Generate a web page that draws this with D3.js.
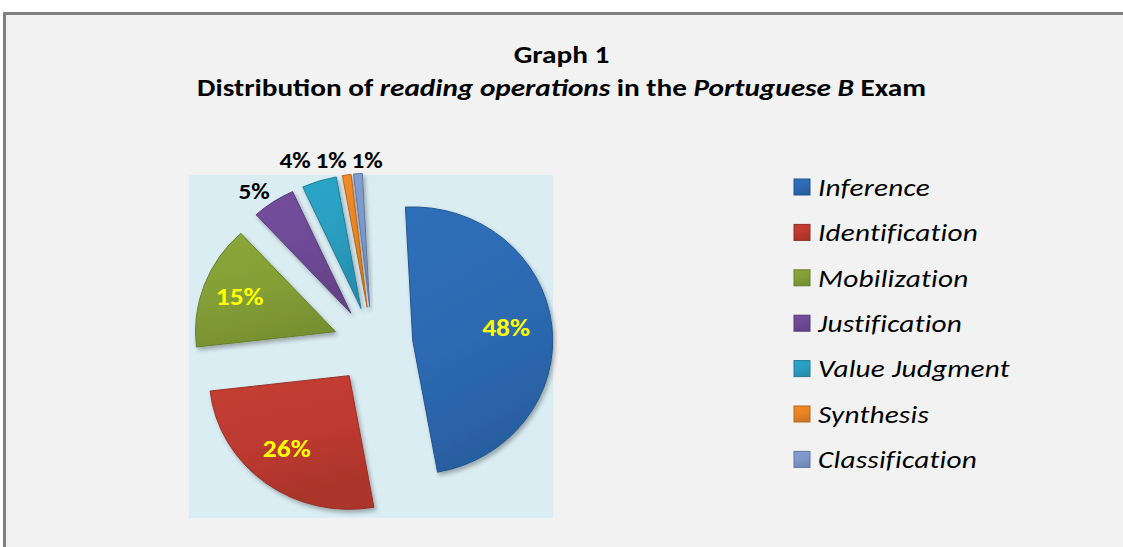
<!DOCTYPE html>
<html>
<head>
<meta charset="utf-8">
<script src="https://cdn.jsdelivr.net/npm/d3@7"></script>
<style>
  body { margin: 0; background: #ffffff; }
  svg { display: block; }
</style>
</head>
<body>
<div id="chart"></div>
<script>
// Data
const categories = ["Inference", "Identification", "Mobilization", "Justification", "Value Judgment", "Synthesis", "Classification"]
const percents = [48, 26, 15, 5, 4, 1, 1]
const colours = ["#2d6ab2", "#bd3a30", "#84a036", "#6f4a96", "#2a9ec0", "#e98424", "#7d98cb"]
const insideLabels = [true, true, true, false, false, false, false]

// Chart parameters
const WIDTH = 1123
const HEIGHT = 547
const FONT = "Carlito, Calibri, Lato, sans-serif"
const STRETCH = 1.17   // the original text is drawn a bit wide
const PLOT = {LEFT:189, TOP:175, WIDTH:364, HEIGHT:343}
const PIE = {CX:373, CY:345, R:140, EXPLODE:40, START:-3, SY:0.955}

let svg = d3.select("#chart").append("svg")
    .attr("width", WIDTH)
    .attr("height", HEIGHT)

let defs = svg.append("defs")

// Soft shadow under the slices
let shadow = defs.append("filter").attr("id", "shadow")
    .attr("x", "-20%").attr("y", "-20%").attr("width", "140%").attr("height", "140%")
shadow.append("feDropShadow")
    .attr("dx", 2).attr("dy", 3).attr("stdDeviation", 2)
    .attr("flood-color", "#000").attr("flood-opacity", 0.3)

// One gradient per colour to fake the bevel
colours.forEach((c, i) => {
    let g = defs.append("linearGradient").attr("id", "grad" + i)
        .attr("x1", 0).attr("y1", 0).attr("x2", 0.3).attr("y2", 1)
    g.append("stop").attr("offset", "0%").attr("stop-color", d3.color(c).brighter(0.12))
    g.append("stop").attr("offset", "55%").attr("stop-color", c)
    g.append("stop").attr("offset", "100%").attr("stop-color", d3.color(c).darker(0.3))
})

// Outer frame
svg.append("rect")
    .attr("x", 4.5).attr("y", 13.5)
    .attr("width", WIDTH + 10).attr("height", HEIGHT + 10)
    .attr("fill", "#f2f2f2")
    .attr("stroke", "#808080")
    .attr("stroke-width", 3)

// Titles
let title = svg.append("g")
    .attr("font-family", FONT)
    .attr("font-weight", "bold")
    .attr("font-size", 25)
    .attr("fill", "#000")
    .attr("text-anchor", "middle")
title.append("text")
    .attr("transform", `translate(${WIDTH / 2},63) scale(${STRETCH},1)`)
    .text("Graph 1")
let t2 = title.append("text")
    .attr("transform", `translate(${WIDTH / 2},96) scale(${STRETCH},1)`)
t2.append("tspan").text("Distribution of ")
t2.append("tspan").attr("font-style", "italic").text("reading operations")
t2.append("tspan").text(" in the ")
t2.append("tspan").attr("font-style", "italic").text("Portuguese B")
t2.append("tspan").text(" Exam")

// Plot area
svg.append("rect")
    .attr("x", PLOT.LEFT).attr("y", PLOT.TOP)
    .attr("width", PLOT.WIDTH).attr("height", PLOT.HEIGHT)
    .attr("fill", "#daedf3")

// Pie layout, clockwise from near 12 o'clock, no sorting
const start = PIE.START * Math.PI / 180
let pie = d3.pie().sort(null).value(d => d.value)
    .startAngle(start).endAngle(start + 2 * Math.PI)
let arcs = pie(percents.map((v, i) => ({value: v, i: i})))

let arc = d3.arc().innerRadius(0).outerRadius(PIE.R)

function mid(d) { return (d.startAngle + d.endAngle) / 2 }
function dir(d) { let a = mid(d); return [Math.sin(a), -Math.cos(a)] }

let slices = svg.append("g")
    .attr("transform", `translate(${PIE.CX},${PIE.CY}) scale(1,${PIE.SY})`)

slices.selectAll("path")
    .data(arcs)
    .enter()
    .append("path")
    .attr("transform", d => { let u = dir(d); return `translate(${u[0] * PIE.EXPLODE},${u[1] * PIE.EXPLODE})` })
    .attr("d", arc)
    .attr("fill", d => `url(#grad${d.data.i})`)
    .attr("stroke", d => d3.color(colours[d.data.i]).darker(0.7))
    .attr("stroke-width", 1)
    .attr("stroke-linejoin", "round")
    .attr("filter", "url(#shadow)")

// Labels live in unscaled pie coordinates
let labels = svg.append("g")
    .attr("transform", `translate(${PIE.CX},${PIE.CY})`)

// Inside labels (yellow)
labels.selectAll("text.inside")
    .data(arcs.filter(d => insideLabels[d.data.i]))
    .enter()
    .append("text")
    .attr("class", "inside")
    .attr("transform", d => {
        let u = dir(d), r = PIE.EXPLODE + PIE.R * 0.7
        return `translate(${u[0] * r - 4},${u[1] * r * PIE.SY - 3}) scale(1.1,1)`
    })
    .attr("dy", "0.35em")
    .attr("text-anchor", "middle")
    .attr("font-family", FONT)
    .attr("font-weight", "bold")
    .attr("font-size", 25)
    .attr("fill", "#ffff00")
    .text(d => d.data.value + "%")

// Outside labels (black), placed past the slice end; the ones that hit
// the top of the plot go in one row and are spread apart
const LW = 36, LH = 16
const ROWY = PLOT.TOP - 15 - PIE.CY
let outside = arcs.filter(d => !insideLabels[d.data.i]).map(d => {
    let u = dir(d)
    let r = PIE.R + PIE.EXPLODE + 6
    let x = u[0] * r + u[0] * LW / 2 - 6
    let y = (u[1] * r + u[1] * LH / 2) * PIE.SY
    let inRow = y < ROWY + 12
    return {d: d, x: x, y: inRow ? ROWY : y, inRow: inRow}
})
let row = outside.filter(o => o.inRow).sort((a, b) => a.x - b.x)
for (let k = 0; k < 100; k++) {
    for (let j = 1; j < row.length; j++) {
        let gap = row[j].x - row[j - 1].x
        if (gap < LW) {
            let push = (LW - gap) / 2
            row[j].x += push
            row[j - 1].x -= push
        }
    }
}

labels.selectAll("text.outside")
    .data(outside)
    .enter()
    .append("text")
    .attr("class", "outside")
    .attr("transform", o => `translate(${o.x},${o.y}) scale(1.1,1)`)
    .attr("dy", "0.35em")
    .attr("text-anchor", "middle")
    .attr("font-family", FONT)
    .attr("font-weight", "bold")
    .attr("font-size", 23)
    .attr("fill", "#000")
    .text(o => o.d.data.value + "%")

// Legend
let legend = svg.append("g")
    .attr("transform", "translate(794,187)")

let item = legend.selectAll("g")
    .data(categories)
    .enter()
    .append("g")
    .attr("transform", (d, i) => `translate(0,${i * 45.4})`)

item.append("rect")
    .attr("x", 0).attr("y", -8)
    .attr("width", 16).attr("height", 16)
    .attr("fill", (d, i) => `url(#grad${i})`)
    .attr("stroke", (d, i) => d3.color(colours[i]).darker(0.7))
    .attr("stroke-width", 1)

item.append("text")
    .attr("transform", `translate(24,0) scale(${STRETCH},1)`)
    .attr("dy", "0.35em")
    .attr("font-family", FONT)
    .attr("font-style", "italic")
    .attr("font-size", 25)
    .attr("letter-spacing", 0.2)
    .attr("fill", "#000")
    .text(d => d)
</script>
</body>
</html>
